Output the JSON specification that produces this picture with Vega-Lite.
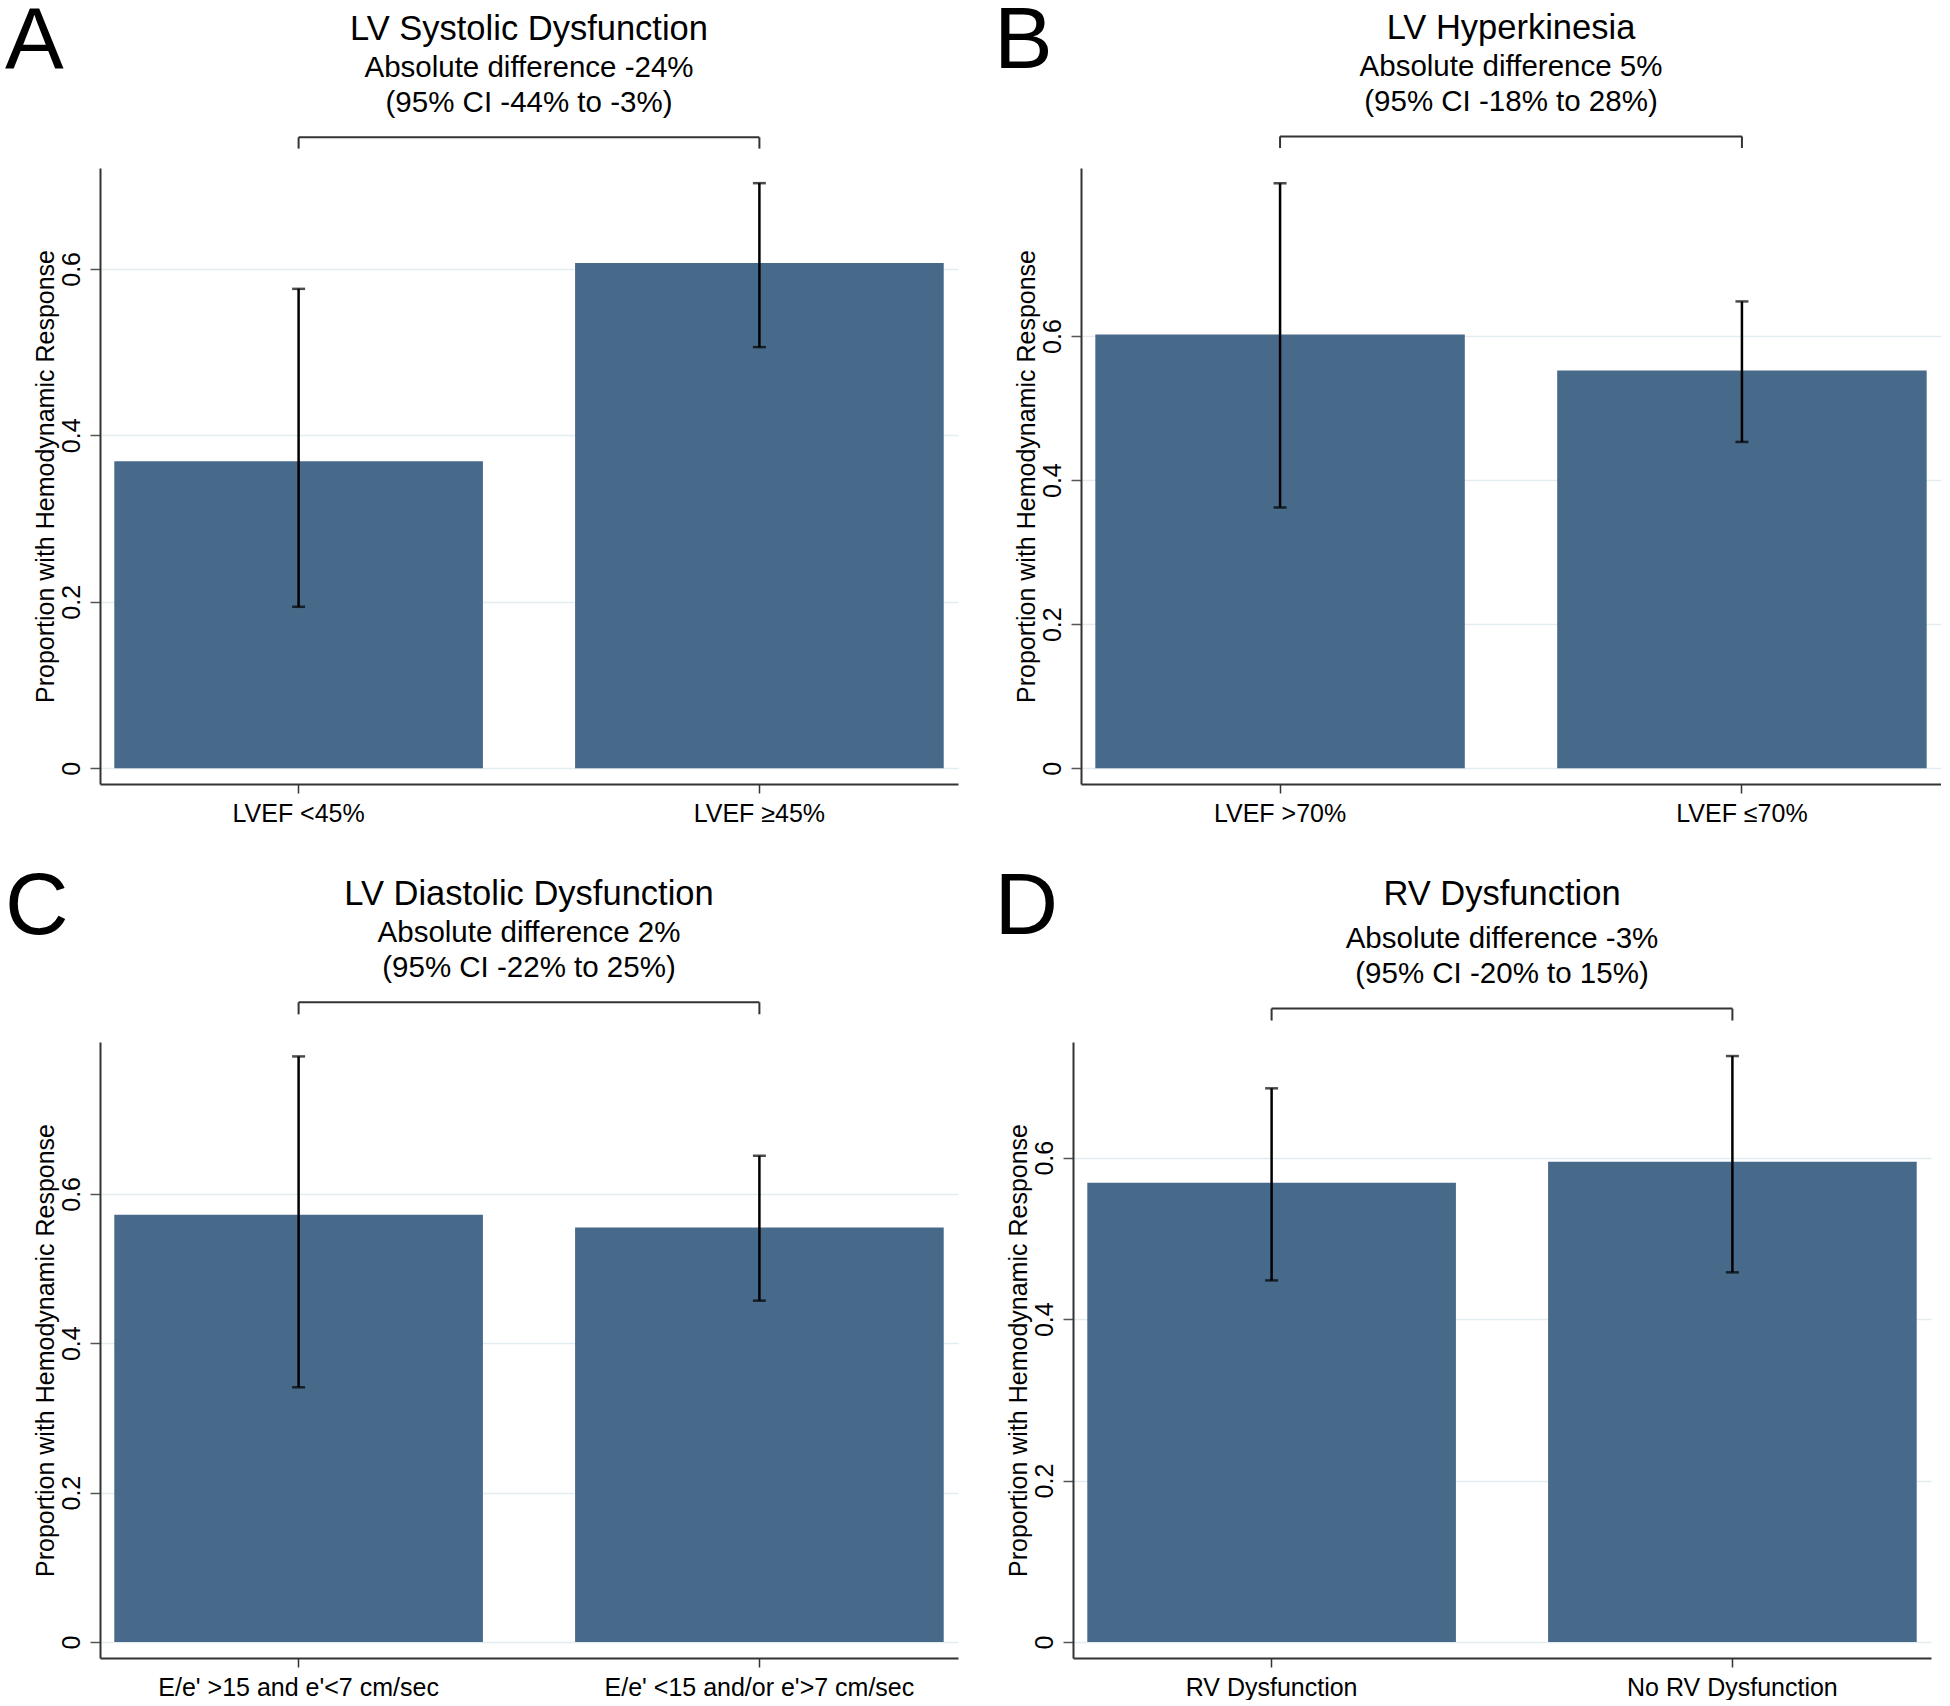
{
  "$schema": "https://vega.github.io/schema/vega-lite/v6.json",
  "padding": {"left": 5, "top": -3, "right": 0, "bottom": 0},
  "background": "white",
  "data": {
    "values": [
      {"panel": "A", "group": "LVEF <45%", "p": 0.369, "lo": 0.194, "hi": 0.576},
      {"panel": "A", "group": "LVEF ≥45%", "p": 0.607, "lo": 0.506, "hi": 0.703},
      {"panel": "B", "group": "LVEF >70%", "p": 0.602, "lo": 0.362, "hi": 0.812},
      {"panel": "B", "group": "LVEF ≤70%", "p": 0.552, "lo": 0.453, "hi": 0.648},
      {"panel": "C", "group": "E/e' >15 and e'<7 cm/sec", "p": 0.572, "lo": 0.341, "hi": 0.784},
      {"panel": "C", "group": "E/e' <15 and/or e'>7 cm/sec", "p": 0.555, "lo": 0.457, "hi": 0.651},
      {"panel": "D", "group": "RV Dysfunction", "p": 0.569, "lo": 0.448, "hi": 0.686},
      {"panel": "D", "group": "No RV Dysfunction", "p": 0.595, "lo": 0.458, "hi": 0.726}
    ]
  },
  "spacing": 37,
  "vconcat": [
    {
      "spacing": 36,
      "hconcat": [
        {
          "title": {"text": "A", "anchor": "start", "frame": "bounds", "fontSize": 88, "offset": -75, "dx": -28},
          "vconcat": [{
            "width": 858, "height": 616,
            "title": {"text": "LV Systolic Dysfunction", "subtitle": ["Absolute difference -24%", "(95% CI -44% to -3%)"]},
            "transform": [{"filter": "datum.panel === 'A'"}],
            "encoding": {"x": {"field": "group", "type": "nominal", "sort": null, "title": null}},
            "layer": [
              {"mark": {"type": "bar", "color": "#486a8a"}, "encoding": {"y": {"field": "p", "type": "quantitative", "title": "Proportion with Hemodynamic Response", "axis": {"values": [0, 0.2, 0.4, 0.6]}, "scale": {"domain": [-0.0189, 0.7212], "nice": false, "zero": false}}, "y2": {"datum": 0}}},
              {"mark": {"type": "rule", "color": "black", "strokeWidth": 2.5}, "encoding": {"y": {"field": "lo", "type": "quantitative", "title": "Proportion with Hemodynamic Response"}, "y2": {"field": "hi"}}},
              {"mark": {"type": "tick", "color": "black", "size": 13, "thickness": 2.5}, "encoding": {"y": {"field": "lo", "type": "quantitative", "title": "Proportion with Hemodynamic Response"}}},
              {"mark": {"type": "tick", "color": "black", "size": 13, "thickness": 2.5}, "encoding": {"y": {"field": "hi", "type": "quantitative", "title": "Proportion with Hemodynamic Response"}}},
              {"mark": {"type": "line", "color": "#333333", "strokeWidth": 2}, "encoding": {"y": {"datum": 0.758, "type": "quantitative"}}},
              {"mark": {"type": "rule", "color": "#333333", "strokeWidth": 2}, "encoding": {"y": {"datum": 0.758, "type": "quantitative"}, "y2": {"datum": 0.7445}}}
            ]
          }]
        },
        {
          "title": {"text": "B", "anchor": "start", "frame": "bounds", "fontSize": 88, "offset": -75, "dx": -20},
          "vconcat": [{
            "width": 860, "height": 616,
            "title": {"text": "LV Hyperkinesia", "subtitle": ["Absolute difference 5%", "(95% CI -18% to 28%)"]},
            "transform": [{"filter": "datum.panel === 'B'"}],
            "encoding": {"x": {"field": "group", "type": "nominal", "sort": null, "title": null}},
            "layer": [
              {"mark": {"type": "bar", "color": "#486a8a"}, "encoding": {"y": {"field": "p", "type": "quantitative", "title": "Proportion with Hemodynamic Response", "axis": {"values": [0, 0.2, 0.4, 0.6]}, "scale": {"domain": [-0.0218, 0.8332], "nice": false, "zero": false}}, "y2": {"datum": 0}}},
              {"mark": {"type": "rule", "color": "black", "strokeWidth": 2.5}, "encoding": {"y": {"field": "lo", "type": "quantitative", "title": "Proportion with Hemodynamic Response"}, "y2": {"field": "hi"}}},
              {"mark": {"type": "tick", "color": "black", "size": 13, "thickness": 2.5}, "encoding": {"y": {"field": "lo", "type": "quantitative", "title": "Proportion with Hemodynamic Response"}}},
              {"mark": {"type": "tick", "color": "black", "size": 13, "thickness": 2.5}, "encoding": {"y": {"field": "hi", "type": "quantitative", "title": "Proportion with Hemodynamic Response"}}},
              {"mark": {"type": "line", "color": "#333333", "strokeWidth": 2}, "encoding": {"y": {"datum": 0.877, "type": "quantitative"}}},
              {"mark": {"type": "rule", "color": "#333333", "strokeWidth": 2}, "encoding": {"y": {"datum": 0.877, "type": "quantitative"}, "y2": {"datum": 0.861}}}
            ]
          }]
        }
      ]
    },
    {
      "spacing": 36,
      "hconcat": [
        {
          "title": {"text": "C", "anchor": "start", "frame": "bounds", "fontSize": 88, "offset": -75, "dx": -28},
          "vconcat": [{
            "width": 858, "height": 616,
            "title": {"text": "LV Diastolic Dysfunction", "subtitle": ["Absolute difference 2%", "(95% CI -22% to 25%)"]},
            "transform": [{"filter": "datum.panel === 'C'"}],
            "encoding": {"x": {"field": "group", "type": "nominal", "sort": null, "title": null}},
            "layer": [
              {"mark": {"type": "bar", "color": "#486a8a"}, "encoding": {"y": {"field": "p", "type": "quantitative", "title": "Proportion with Hemodynamic Response", "axis": {"values": [0, 0.2, 0.4, 0.6]}, "scale": {"domain": [-0.0214, 0.8033], "nice": false, "zero": false}}, "y2": {"datum": 0}}},
              {"mark": {"type": "rule", "color": "black", "strokeWidth": 2.5}, "encoding": {"y": {"field": "lo", "type": "quantitative", "title": "Proportion with Hemodynamic Response"}, "y2": {"field": "hi"}}},
              {"mark": {"type": "tick", "color": "black", "size": 13, "thickness": 2.5}, "encoding": {"y": {"field": "lo", "type": "quantitative", "title": "Proportion with Hemodynamic Response"}}},
              {"mark": {"type": "tick", "color": "black", "size": 13, "thickness": 2.5}, "encoding": {"y": {"field": "hi", "type": "quantitative", "title": "Proportion with Hemodynamic Response"}}},
              {"mark": {"type": "line", "color": "#333333", "strokeWidth": 2}, "encoding": {"y": {"datum": 0.8564, "type": "quantitative"}}},
              {"mark": {"type": "rule", "color": "#333333", "strokeWidth": 2}, "encoding": {"y": {"datum": 0.8564, "type": "quantitative"}, "y2": {"datum": 0.8404}}}
            ]
          }]
        },
        {
          "title": {"text": "D", "anchor": "start", "frame": "bounds", "fontSize": 88, "offset": -75, "dx": -11.5},
          "vconcat": [{
            "width": 858, "height": 616,
            "title": {"text": "RV Dysfunction", "subtitle": ["Absolute difference -3%", "(95% CI -20% to 15%)"], "subtitlePadding": 12.5},
            "transform": [{"filter": "datum.panel === 'D'"}],
            "encoding": {"x": {"field": "group", "type": "nominal", "sort": null, "title": null}},
            "layer": [
              {"mark": {"type": "bar", "color": "#486a8a"}, "encoding": {"y": {"field": "p", "type": "quantitative", "title": "Proportion with Hemodynamic Response", "axis": {"values": [0, 0.2, 0.4, 0.6]}, "scale": {"domain": [-0.0198, 0.7434], "nice": false, "zero": false}}, "y2": {"datum": 0}}},
              {"mark": {"type": "rule", "color": "black", "strokeWidth": 2.5}, "encoding": {"y": {"field": "lo", "type": "quantitative", "title": "Proportion with Hemodynamic Response"}, "y2": {"field": "hi"}}},
              {"mark": {"type": "tick", "color": "black", "size": 13, "thickness": 2.5}, "encoding": {"y": {"field": "lo", "type": "quantitative", "title": "Proportion with Hemodynamic Response"}}},
              {"mark": {"type": "tick", "color": "black", "size": 13, "thickness": 2.5}, "encoding": {"y": {"field": "hi", "type": "quantitative", "title": "Proportion with Hemodynamic Response"}}},
              {"mark": {"type": "line", "color": "#333333", "strokeWidth": 2}, "encoding": {"y": {"datum": 0.7848, "type": "quantitative"}}},
              {"mark": {"type": "rule", "color": "#333333", "strokeWidth": 2}, "encoding": {"y": {"datum": 0.7848, "type": "quantitative"}, "y2": {"datum": 0.770}}}
            ]
          }]
        }
      ]
    }
  ],
  "config": {
    "font": "Liberation Sans",
    "view": {"stroke": null},
    "scale": {"bandPaddingInner": 0.2, "bandPaddingOuter": 0.031},
    "title": {"fontSize": 34.5, "subtitleFontSize": 29.5, "fontWeight": "normal", "color": "black", "subtitleColor": "black", "subtitlePadding": 6.5, "subtitleLineHeight": 35, "offset": 15, "frame": "group", "anchor": "middle", "font": "Liberation Sans", "subtitleFont": "Liberation Sans"},
    "axisX": {"domainColor": "#333333", "domainWidth": 2, "tickColor": "#333333", "tickSize": 9, "tickWidth": 1.5, "labelFontSize": 25, "labelColor": "black", "labelPadding": 8, "labelAngle": 0, "labelLimit": 0, "grid": false, "labelFont": "Liberation Sans"},
    "axisY": {"domainColor": "#333333", "domainWidth": 2, "tickColor": "#555555", "tickSize": 10, "tickWidth": 1.5, "format": "~g", "grid": true, "gridColor": "#e3ecef", "gridWidth": 1.5, "labelAngle": 270, "labelAlign": "center", "labelBaseline": "alphabetic", "labelPadding": 11, "labelFontSize": 25, "labelColor": "black", "labelFont": "Liberation Sans", "titleFontSize": 25, "titleFontWeight": "normal", "titleColor": "black", "titleFont": "Liberation Sans", "titlePadding": 1}
  }
}
